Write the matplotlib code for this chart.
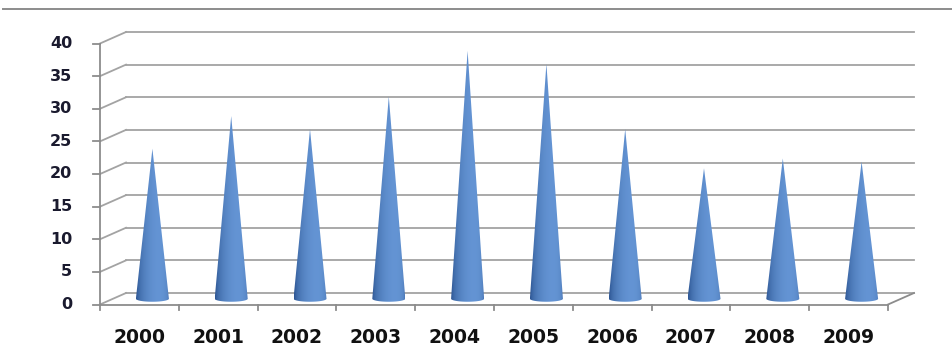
import numpy as np
import matplotlib.pyplot as plt
from matplotlib.patches import Polygon
from matplotlib.lines import Line2D

years = ['2000', '2001', '2002', '2003', '2004', '2005', '2006', '2007', '2008', '2009']
values = [23, 28, 26, 31, 38, 36, 26, 20, 21.5, 21]
y_ticks = [0, 5, 10, 15, 20, 25, 30, 35, 40]

W, H = 952, 355
fig = plt.figure(figsize=(W / 100, H / 100), dpi=100)
ax = fig.add_axes([100 / W, (H - 304.5) / H, 788 / W, 261 / H])
ax.set_xlim(0, len(years))
ax.set_ylim(0, 40)
ax.axis('off')

# pixels per data unit -> depth offset of the back wall in data units
p0 = ax.transData.transform((0, 0))
p1 = ax.transData.transform((1, 1))
px_x, px_y = p1 - p0
DX = 26 / px_x
DY = 11.5 / px_y

grid_c = '#a3a3a3'
axis_c = '#8c8c8c'
n = len(years)

# back wall gridlines + side wall diagonals
for v in y_ticks:
    ax.plot([DX, n + DX], [v + DY, v + DY], color=grid_c, lw=1.3, clip_on=False, zorder=1)
    ax.plot([0, DX], [v, v + DY], color=grid_c, lw=1.3, clip_on=False, zorder=1)

# floor
ax.plot([0, n], [0, 0], color=axis_c, lw=1.3, clip_on=False, zorder=2)
ax.plot([n, n + DX], [0, DY], color=axis_c, lw=1.3, clip_on=False, zorder=2)
# vertical axis
ax.plot([0, 0], [0, 40], color=axis_c, lw=1.3, clip_on=False, zorder=2)

# ticks
tick_x = 7 / px_x
tick_y = 5 / px_y
for v in y_ticks:
    ax.plot([-tick_x, 0], [v, v], color=axis_c, lw=1.3, clip_on=False)
    ax.annotate(str(v), (0, v), xytext=(-20, 0), textcoords='offset points',
                ha='right', va='center', fontsize=11.5, fontweight='bold', color='#1a1a2e')
for i in range(n + 1):
    ax.plot([i, i], [0, -tick_y], color=axis_c, lw=1.3, clip_on=False)
for i, yr in enumerate(years):
    ax.annotate(yr, (i + 0.5, 0), xytext=(0, -23.5), textcoords='offset points',
                ha='center', va='center', fontsize=13.5, fontweight='bold', color='#111111')

# cones: shaded gradient image clipped to the cone outline
dark = np.array([0.17, 0.33, 0.57])
light = np.array([0.40, 0.59, 0.84])
u = np.linspace(-1, 1, 80)
inten = np.clip(0.2 + 0.7 * np.sqrt(1 - u ** 2) + 0.3 * u, 0, 1)
shade = dark[None, :] + (light - dark)[None, :] * inten[:, None]
shade_img = np.repeat(shade[None, :, :], 2, axis=0)

w = 16.5 / px_x
h = 3.0 / px_y
thetas = np.linspace(np.pi, 2 * np.pi, 40)
for i, v in enumerate(values):
    cx = i + 0.5 + DX / 2
    by = DY / 2
    tip = (cx, by + v)
    xs = cx + w * np.cos(thetas)
    ys = by + h * np.sin(thetas)
    outline = Polygon([tip] + list(zip(xs, ys)), closed=True, facecolor='none',
                      edgecolor='none', clip_on=False)
    ax.add_patch(outline)
    im = ax.imshow(shade_img, extent=[cx - w, cx + w, by - h, by + v], aspect='auto',
                   interpolation='bilinear', zorder=3, clip_on=True)
    im.set_clip_path(outline)

ax.set_xlim(0, len(years))
ax.set_ylim(0, 40)

# top border line
fig.add_artist(Line2D([3 / W, 1], [1 - 9 / H, 1 - 9 / H], color='#8c8c8c', lw=1.4))

fig.savefig('out.png', dpi=100)
